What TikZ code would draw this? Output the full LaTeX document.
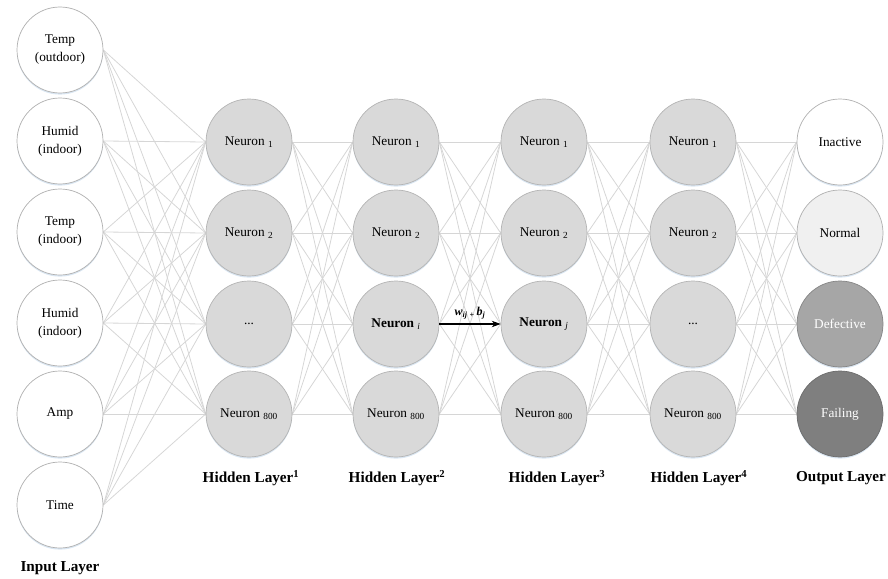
\documentclass[tikz,border=0pt]{standalone}
\usepackage{fontspec}
\setmainfont{Liberation Serif}
\usetikzlibrary{arrows.meta,shadows,backgrounds}
\definecolor{edgec}{HTML}{D6D6D6}
\definecolor{hidfill}{HTML}{D9D9D9}
\definecolor{hidline}{HTML}{B4B4B4}
\definecolor{inline}{HTML}{B0B0B0}
\definecolor{shadc}{HTML}{DAE6F2}
\definecolor{normfill}{HTML}{F0F0F0}
\definecolor{deffill}{HTML}{A6A6A6}
\definecolor{failfill}{HTML}{7F7F7F}
\begin{document}
\begin{tikzpicture}[x=1pt,y=-1pt,
  neuron/.style={circle,minimum size=86pt,inner sep=0pt,align=center,
    font=\fontsize{13.3}{18}\selectfont,
    drop shadow={shadow xshift=0pt,shadow yshift=-1.6pt,fill=shadc,opacity=1}},
  inputnode/.style={neuron,draw=inline,fill=white,line width=0.7pt},
  hidnode/.style={neuron,draw=hidline,fill=hidfill,line width=0.7pt},
  outnode/.style={neuron,draw=inline,line width=0.7pt},
  edge/.style={draw=edgec,line width=0.8pt},
  layerlabel/.style={font=\bfseries\fontsize{15.2}{18}\selectfont,inner sep=0pt}]
\useasboundingbox (0,0) rectangle (888,578);

% input layer
\node[inputnode] (in1) at (60,50) {Temp\\(outdoor)};
\node[inputnode] (in2) at (60,141) {Humid\\(indoor)};
\node[inputnode] (in3) at (60,232) {Temp\\(indoor)};
\node[inputnode] (in4) at (60,323) {Humid\\(indoor)};
\node[inputnode] (in5) at (60,414) {Amp};
\node[inputnode] (in6) at (60,505) {Time};

% hidden layer 1
\node[hidnode] (a1) at (249,142) {Neuron \textsubscript{1}};
\node[hidnode] (a2) at (249,233) {Neuron \textsubscript{2}};
\node[hidnode] (a3) at (249,324) {...};
\node[hidnode] (a4) at (249,414) {Neuron \textsubscript{800}};

% hidden layer 2
\node[hidnode] (b1) at (396,142) {Neuron \textsubscript{1}};
\node[hidnode] (b2) at (396,233) {Neuron \textsubscript{2}};
\node[hidnode] (b3) at (396,324) {\textbf{Neuron} \textsubscript{\textit{i}}};
\node[hidnode] (b4) at (396,414) {Neuron \textsubscript{800}};

% hidden layer 3
\node[hidnode] (c1) at (544,142) {Neuron \textsubscript{1}};
\node[hidnode] (c2) at (544,233) {Neuron \textsubscript{2}};
\node[hidnode] (c3) at (544,324) {\textbf{Neuron} \textsubscript{\textit{j}}};
\node[hidnode] (c4) at (544,414) {Neuron \textsubscript{800}};

% hidden layer 4
\node[hidnode] (d1) at (693,142) {Neuron \textsubscript{1}};
\node[hidnode] (d2) at (693,233) {Neuron \textsubscript{2}};
\node[hidnode] (d3) at (693,324) {...};
\node[hidnode] (d4) at (693,414) {Neuron \textsubscript{800}};

% output layer
\node[outnode,fill=white] (o1) at (840,142) {Inactive};
\node[outnode,fill=normfill] (o2) at (840,233) {Normal};
\node[outnode,fill=deffill,draw=deffill!80!black,text=white] (o3) at (840,324) {Defective};
\node[outnode,fill=failfill,draw=failfill!85!black,text=white] (o4) at (840,414) {Failing};

% connections
\begin{scope}[on background layer]
\foreach \i in {1,...,6}{\foreach \j in {1,...,4}{\draw[edge] (in\i.east) -- (a\j.west);}}
\foreach \i in {1,...,4}{\foreach \j in {1,...,4}{
  \draw[edge] (a\i.east) -- (b\j.west);
  \ifnum\i\j=33 \else \draw[edge] (b\i.east) -- (c\j.west);\fi
  \draw[edge] (c\i.east) -- (d\j.west);
  \draw[edge] (d\i.east) -- (o\j.west);}}
\end{scope}

\draw[line width=1.1pt,-{Stealth[length=9pt,width=6.5pt]}] (b3.east) -- (c3.west)
  node[midway,above=1pt,font=\bfseries\itshape\fontsize{12}{14}\selectfont]
  {w\textsubscript{ij}\,\textsubscript{+}\,b\textsubscript{j}};

% layer labels
\node[layerlabel] (l0) at (60,568) {Input Layer};
\node[layerlabel] (l1) at (251,478) {Hidden Layer\textsuperscript{1}};
\node[layerlabel] (l2) at (397,478) {Hidden Layer\textsuperscript{2}};
\node[layerlabel] (l3) at (557,478) {Hidden Layer\textsuperscript{3}};
\node[layerlabel] (l4) at (699,478) {Hidden Layer\textsuperscript{4}};
\node[layerlabel] (l5) at (841,478) {Output Layer};
\end{tikzpicture}
\end{document}
